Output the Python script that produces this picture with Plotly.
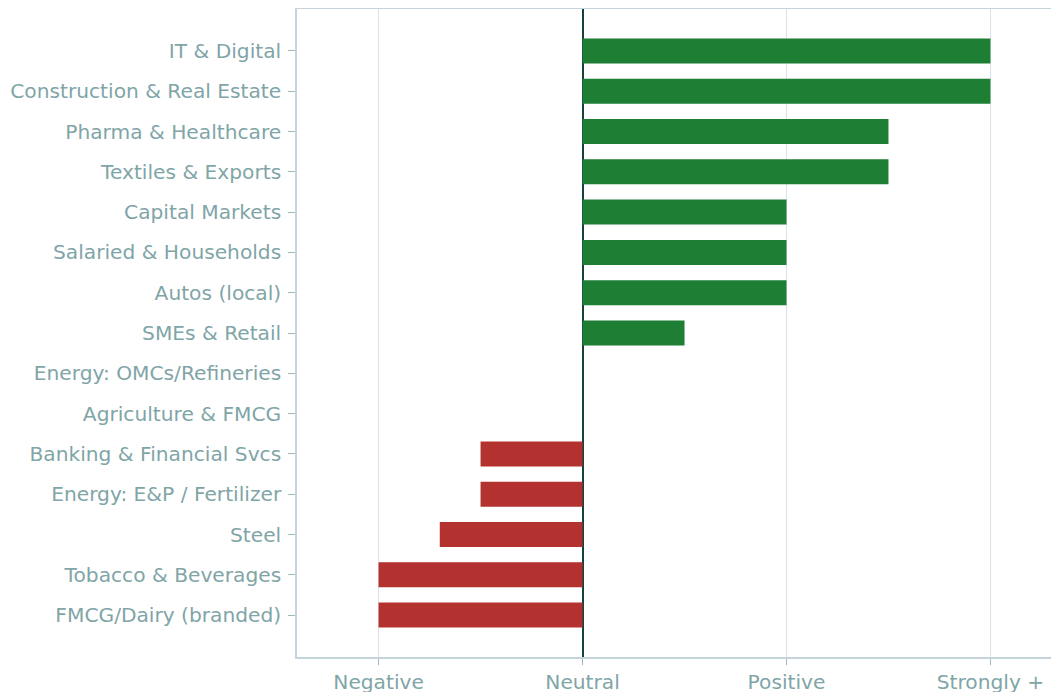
import plotly.graph_objects as go

sectors = [
    "IT & Digital", "Construction & Real Estate", "Pharma & Healthcare",
    "Textiles & Exports", "Capital Markets", "Salaried & Households",
    "Autos (local)", "SMEs & Retail", "Energy: OMCs/Refineries",
    "Agriculture & FMCG", "Banking & Financial Svcs", "Energy: E&P / Fertilizer",
    "Steel", "Tobacco & Beverages", "FMCG/Dairy (branded)",
]
impact = [2, 2, 1.5, 1.5, 1, 1, 1, 0.5, 0, 0, -0.5, -0.5, -0.7, -1, -1]
tick_vals = [-1, 0, 1, 2]
tick_text = ["Negative", "Neutral", "Positive", "Strongly +"]

colors = ["#1e7e34" if v > 0 else "#b3312e" for v in impact]

fig = go.Figure(go.Bar(
    x=impact, y=sectors, orientation="h",
    marker=dict(color=colors, line=dict(width=0)),
    width=0.62,
))

fig.update_layout(
    width=1062, height=686,
    margin=dict(l=289, r=0, t=1, b=37),
    plot_bgcolor="white", paper_bgcolor="white",
    font=dict(family="DejaVu Sans", size=20.2, color="#7fa5a7"),
    showlegend=False,
)
fig.update_xaxes(
    range=[-1.4, 2.39], tickvals=tick_vals, ticktext=tick_text,
    showgrid=True, gridcolor="#d8e2e8", gridwidth=1,
    zeroline=True, zerolinecolor="#17403f", zerolinewidth=2,
    showline=True, linecolor="#c5d3dc", linewidth=1.5, mirror=True,
    ticks="outside", ticklen=6, tickcolor="#9fb8bc",
    automargin=False,
)
fig.update_yaxes(
    type="category", categoryorder="array", categoryarray=sectors,
    range=[15.04, -1.04],
    showgrid=False, zeroline=False,
    showline=True, linecolor="#c5d3dc", linewidth=1.5, mirror=True,
    ticks="outside", ticklen=7, tickcolor="#9fb8bc",
    ticklabelstandoff=3,
    automargin=False,
)

fig.write_html("out.html")
